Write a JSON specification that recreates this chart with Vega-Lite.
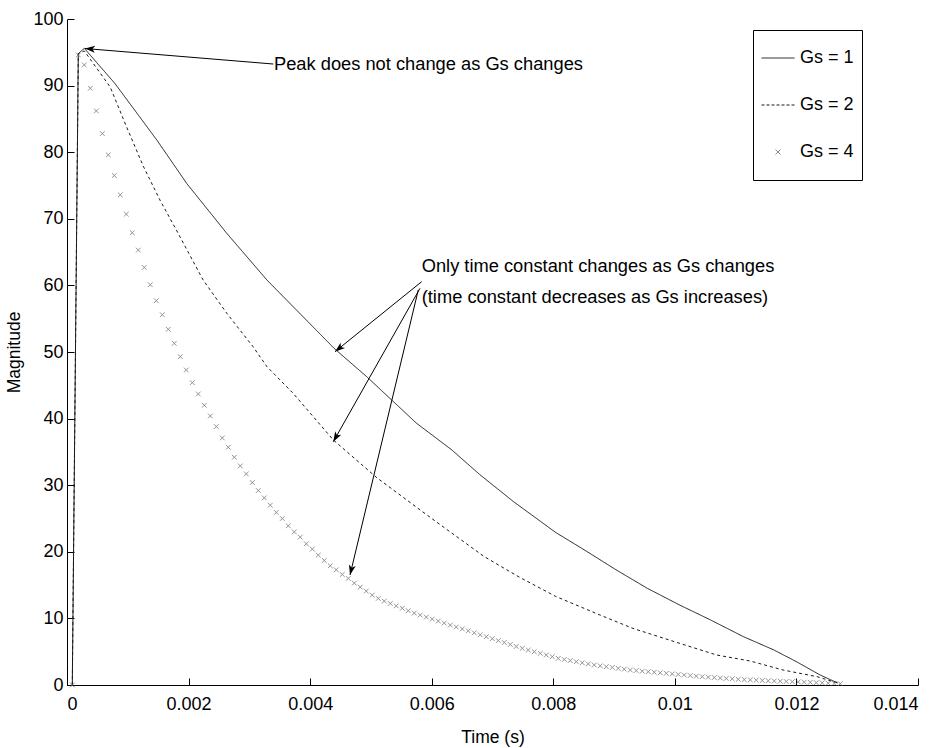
{
  "$schema": "https://vega.github.io/schema/vega-lite/v6.json",
  "width": 851,
  "height": 666,
  "autosize": {"type": "none"},
  "padding": {"left": 67, "top": 19, "right": 26, "bottom": 63},
  "background": "white",
  "config": {
    "view": {"stroke": null},
    "font": "Liberation Sans",
    "axis": {
      "grid": false,
      "domainColor": "#000",
      "domainWidth": 1,
      "tickColor": "#000",
      "tickWidth": 1,
      "tickSize": -7,
      "labelColor": "#000",
      "labelFont": "Liberation Sans",
      "labelFontSize": 18,
      "titleFont": "Liberation Sans",
      "titleFontSize": 17.5,
      "titleFontWeight": "normal",
      "titleColor": "#000"
    }
  },
  "datasets": {
    "lines": [
      {"s": "Gs = 1", "t": 0.0000872, "m": 0},
      {"s": "Gs = 1", "t": 0.0001859, "m": 94.8},
      {"s": "Gs = 1", "t": 0.0002846, "m": 95.6},
      {"s": "Gs = 1", "t": 0.00079, "m": 90.3},
      {"s": "Gs = 1", "t": 0.00148, "m": 81.8},
      {"s": "Gs = 1", "t": 0.00197, "m": 75.3},
      {"s": "Gs = 1", "t": 0.00263, "m": 67.8},
      {"s": "Gs = 1", "t": 0.00329, "m": 60.8},
      {"s": "Gs = 1", "t": 0.0044, "m": 50.5},
      {"s": "Gs = 1", "t": 0.00493, "m": 46.3},
      {"s": "Gs = 1", "t": 0.00575, "m": 39.3},
      {"s": "Gs = 1", "t": 0.00633, "m": 35.3},
      {"s": "Gs = 1", "t": 0.00679, "m": 31.6},
      {"s": "Gs = 1", "t": 0.00735, "m": 27.5},
      {"s": "Gs = 1", "t": 0.00804, "m": 22.9},
      {"s": "Gs = 1", "t": 0.00849, "m": 20.4},
      {"s": "Gs = 1", "t": 0.00905, "m": 17.2},
      {"s": "Gs = 1", "t": 0.00955, "m": 14.5},
      {"s": "Gs = 1", "t": 0.01008, "m": 12.0},
      {"s": "Gs = 1", "t": 0.01058, "m": 9.8},
      {"s": "Gs = 1", "t": 0.01113, "m": 7.25},
      {"s": "Gs = 1", "t": 0.01162, "m": 5.3},
      {"s": "Gs = 1", "t": 0.012, "m": 3.5},
      {"s": "Gs = 1", "t": 0.01239, "m": 1.5},
      {"s": "Gs = 1", "t": 0.01268, "m": 0.3},
      {"s": "Gs = 2", "t": 0.0000872, "m": 0},
      {"s": "Gs = 2", "t": 0.0001859, "m": 94.8},
      {"s": "Gs = 2", "t": 0.0002846, "m": 95.2},
      {"s": "Gs = 2", "t": 0.00071, "m": 89.8},
      {"s": "Gs = 2", "t": 0.00098, "m": 83.8},
      {"s": "Gs = 2", "t": 0.00126, "m": 77.8},
      {"s": "Gs = 2", "t": 0.00153, "m": 72.8},
      {"s": "Gs = 2", "t": 0.0018, "m": 68.3},
      {"s": "Gs = 2", "t": 0.00224, "m": 60.8},
      {"s": "Gs = 2", "t": 0.00263, "m": 55.8},
      {"s": "Gs = 2", "t": 0.00306, "m": 50.8},
      {"s": "Gs = 2", "t": 0.00329, "m": 47.8},
      {"s": "Gs = 2", "t": 0.00372, "m": 43.8},
      {"s": "Gs = 2", "t": 0.00438, "m": 36.8},
      {"s": "Gs = 2", "t": 0.0051, "m": 31.1},
      {"s": "Gs = 2", "t": 0.006, "m": 25.0},
      {"s": "Gs = 2", "t": 0.00686, "m": 19.3},
      {"s": "Gs = 2", "t": 0.00744, "m": 16.2},
      {"s": "Gs = 2", "t": 0.00804, "m": 13.3},
      {"s": "Gs = 2", "t": 0.00877, "m": 10.5},
      {"s": "Gs = 2", "t": 0.00931, "m": 8.5},
      {"s": "Gs = 2", "t": 0.01003, "m": 6.4},
      {"s": "Gs = 2", "t": 0.01069, "m": 4.5},
      {"s": "Gs = 2", "t": 0.01124, "m": 3.6},
      {"s": "Gs = 2", "t": 0.01178, "m": 2.25},
      {"s": "Gs = 2", "t": 0.01234, "m": 1.25},
      {"s": "Gs = 2", "t": 0.01268, "m": 0.3}
    ],
    "markers": [
      {"t": 0.0000872, "m": 0}, {"t": 0.0001859, "m": 94.6}, {"t": 0.0002846, "m": 93.1}, {"t": 0.0003833, "m": 89.6},
      {"t": 0.000482, "m": 86.2}, {"t": 0.0005807, "m": 82.8}, {"t": 0.0006794, "m": 79.6}, {"t": 0.0007781, "m": 76.5},
      {"t": 0.0008768, "m": 73.6}, {"t": 0.0009755, "m": 70.7}, {"t": 0.0010742, "m": 67.9}, {"t": 0.0011729, "m": 65.3},
      {"t": 0.0012716, "m": 62.7}, {"t": 0.0013703, "m": 60.1}, {"t": 0.001469, "m": 57.7}, {"t": 0.0015677, "m": 55.6},
      {"t": 0.0016664, "m": 53.4}, {"t": 0.0017651, "m": 51.3}, {"t": 0.0018638, "m": 49.3}, {"t": 0.0019625, "m": 47.3},
      {"t": 0.0020612, "m": 45.4}, {"t": 0.0021599, "m": 43.7}, {"t": 0.0022586, "m": 42.0}, {"t": 0.0023573, "m": 40.4},
      {"t": 0.002456, "m": 38.8}, {"t": 0.0025547, "m": 37.1}, {"t": 0.0026534, "m": 35.7}, {"t": 0.0027521, "m": 34.2},
      {"t": 0.0028508, "m": 32.9}, {"t": 0.0029495, "m": 31.7}, {"t": 0.0030482, "m": 30.4}, {"t": 0.0031469, "m": 29.2},
      {"t": 0.0032456, "m": 28.1}, {"t": 0.0033443, "m": 27.0}, {"t": 0.003443, "m": 25.9}, {"t": 0.0035417, "m": 25.0},
      {"t": 0.0036404, "m": 23.9}, {"t": 0.0037391, "m": 23.0}, {"t": 0.0038378, "m": 22.2}, {"t": 0.0039365, "m": 21.2},
      {"t": 0.0040352, "m": 20.4}, {"t": 0.0041339, "m": 19.5}, {"t": 0.0042326, "m": 18.7}, {"t": 0.0043313, "m": 17.9},
      {"t": 0.00443, "m": 17.3}, {"t": 0.0045287, "m": 16.6}, {"t": 0.0046274, "m": 16.0}, {"t": 0.0047261, "m": 15.3},
      {"t": 0.0048248, "m": 14.7}, {"t": 0.0049235, "m": 14.1}, {"t": 0.0050222, "m": 13.5}, {"t": 0.0051209, "m": 13.0},
      {"t": 0.0052196, "m": 12.6}, {"t": 0.0053183, "m": 12.24}, {"t": 0.005417, "m": 11.88}, {"t": 0.0055157, "m": 11.52},
      {"t": 0.0056144, "m": 11.16}, {"t": 0.0057131, "m": 10.8}, {"t": 0.0058118, "m": 10.5}, {"t": 0.0059105, "m": 10.2},
      {"t": 0.0060092, "m": 9.9}, {"t": 0.0061079, "m": 9.6}, {"t": 0.0062066, "m": 9.3}, {"t": 0.0063053, "m": 9.0},
      {"t": 0.006404, "m": 8.71}, {"t": 0.0065027, "m": 8.42}, {"t": 0.0066014, "m": 8.13}, {"t": 0.0067001, "m": 7.83},
      {"t": 0.0067988, "m": 7.54}, {"t": 0.0068975, "m": 7.25}, {"t": 0.0069962, "m": 6.96}, {"t": 0.0070949, "m": 6.67},
      {"t": 0.0071936, "m": 6.38}, {"t": 0.0072923, "m": 6.08}, {"t": 0.007391, "m": 5.79}, {"t": 0.0074897, "m": 5.5},
      {"t": 0.0075884, "m": 5.25}, {"t": 0.0076871, "m": 5.0}, {"t": 0.0077858, "m": 4.75}, {"t": 0.0078845, "m": 4.5},
      {"t": 0.0079832, "m": 4.25}, {"t": 0.0080819, "m": 4.0}, {"t": 0.0081806, "m": 3.83}, {"t": 0.0082793, "m": 3.67},
      {"t": 0.008378, "m": 3.5}, {"t": 0.0084767, "m": 3.33}, {"t": 0.0085754, "m": 3.17}, {"t": 0.0086741, "m": 3.0},
      {"t": 0.0087728, "m": 2.88}, {"t": 0.0088715, "m": 2.75}, {"t": 0.0089702, "m": 2.63}, {"t": 0.0090689, "m": 2.5},
      {"t": 0.0091676, "m": 2.38}, {"t": 0.0092663, "m": 2.25}, {"t": 0.009365, "m": 2.17}, {"t": 0.0094637, "m": 2.08},
      {"t": 0.0095624, "m": 2.0}, {"t": 0.0096611, "m": 1.92}, {"t": 0.0097598, "m": 1.83}, {"t": 0.0098585, "m": 1.75},
      {"t": 0.0099572, "m": 1.67}, {"t": 0.0100559, "m": 1.58}, {"t": 0.0101546, "m": 1.5}, {"t": 0.0102533, "m": 1.42},
      {"t": 0.010352, "m": 1.33}, {"t": 0.0104507, "m": 1.25}, {"t": 0.0105494, "m": 1.18}, {"t": 0.0106481, "m": 1.12},
      {"t": 0.0107468, "m": 1.05}, {"t": 0.0108455, "m": 0.98}, {"t": 0.0109442, "m": 0.92}, {"t": 0.0110429, "m": 0.85},
      {"t": 0.0111416, "m": 0.81}, {"t": 0.0112403, "m": 0.77}, {"t": 0.011339, "m": 0.73}, {"t": 0.0114377, "m": 0.68},
      {"t": 0.0115364, "m": 0.64}, {"t": 0.0116351, "m": 0.6}, {"t": 0.0117338, "m": 0.57}, {"t": 0.0118325, "m": 0.53},
      {"t": 0.0119312, "m": 0.5}, {"t": 0.0120299, "m": 0.47}, {"t": 0.0121286, "m": 0.43}, {"t": 0.0122273, "m": 0.4},
      {"t": 0.012326, "m": 0.36}, {"t": 0.0124247, "m": 0.32}, {"t": 0.0125234, "m": 0.28}, {"t": 0.0126221, "m": 0.24},
      {"t": 0.0127208, "m": 0.2}
    ],
    "arrows": [
      {"t": 0.003394, "m": 93.24, "t2": 0.000296, "m2": 95.57},
      {"t": 0.005835, "m": 60.56, "t2": 0.004409, "m2": 50.05},
      {"t": 0.005807, "m": 59.56, "t2": 0.004381, "m2": 36.53},
      {"t": 0.005779, "m": 59.31, "t2": 0.004656, "m2": 16.52}
    ],
    "labels": [
      {"t": 0.003405, "m": 93.1, "txt": "Peak does not change as Gs changes"},
      {"t": 0.005835, "m": 62.7, "txt": "Only time constant changes as Gs changes"},
      {"t": 0.005835, "m": 58.1, "txt": "(time constant decreases as Gs increases)"}
    ]
  },
  "layer": [
    {
      "data": {"name": "lines"},
      "mark": {"type": "line", "strokeWidth": 1},
      "encoding": {
        "x": {
          "field": "t", "type": "quantitative",
          "scale": {"domain": [0, 0.014], "nice": false, "zero": false},
          "axis": {"values": [0, 0.002, 0.004, 0.006, 0.008, 0.01, 0.012, 0.014], "format": "~g", "title": "Time (s)", "labelPadding": 17.5, "titlePadding": 15}
        },
        "y": {
          "field": "m", "type": "quantitative",
          "scale": {"domain": [0, 100], "nice": false},
          "axis": {"values": [0, 10, 20, 30, 40, 50, 60, 70, 80, 90, 100], "title": "Magnitude", "labelPadding": 11, "titlePadding": 9}
        },
        "color": {
          "field": "s", "type": "nominal",
          "scale": {"domain": ["Gs = 1", "Gs = 2", "Gs = 4"], "range": ["#1a1a1a", "#1a1a1a", "#666666"]},
          "legend": {
            "title": null,
            "orient": "none",
            "legendX": 686,
            "legendY": 11,
            "padding": 8,
            "strokeColor": "#000",
            "fillColor": "#fff",
            "symbolType": "stroke",
            "symbolSize": 1089,
            "symbolStrokeWidth": 1,
            "labelFontSize": 18,
            "labelFont": "Liberation Sans",
            "labelColor": "#000",
            "labelOffset": 5,
            "clipHeight": 40,
            "rowPadding": 7,
            "encode": {
              "symbols": {
                "update": {
                  "shape": {"signal": "datum.value == 'Gs = 4' ? 'M-1,-1L1,1M-1,1L1,-1' : 'stroke'"},
                  "size": {"signal": "datum.value == 'Gs = 4' ? 22 : 1089"},
                  "strokeDash": {"signal": "datum.value == 'Gs = 2' ? [3, 2] : [1, 0]"}
                }
              }
            }
          }
        },
        "strokeDash": {
          "field": "s", "type": "nominal",
          "scale": {"domain": ["Gs = 1", "Gs = 2"], "range": [[1, 0], [3, 3]]},
          "legend": null
        }
      }
    },
    {
      "data": {"name": "markers"},
      "mark": {"type": "point", "shape": "M-1,-1L1,1M-1,1L1,-1", "size": 22, "strokeWidth": 1, "filled": false},
      "encoding": {
        "x": {"field": "t", "type": "quantitative"},
        "y": {"field": "m", "type": "quantitative"},
        "color": {"datum": "Gs = 4", "type": "nominal"}
      }
    },
    {
      "data": {"name": "arrows"},
      "mark": {"type": "rule", "color": "#000", "strokeWidth": 1},
      "encoding": {
        "x": {"field": "t", "type": "quantitative"},
        "y": {"field": "m", "type": "quantitative"},
        "x2": {"field": "t2"},
        "y2": {"field": "m2"}
      }
    },
    {
      "data": {"name": "labels"},
      "mark": {"type": "text", "align": "left", "baseline": "middle", "fontSize": 18.3, "font": "Liberation Sans", "color": "#000"},
      "encoding": {
        "x": {"field": "t", "type": "quantitative"},
        "y": {"field": "m", "type": "quantitative"},
        "text": {"field": "txt"}
      }
    },
    {
      "data": {"values": [{"t": 0.000296, "m": 95.57}]},
      "mark": {"type": "point", "shape": "M0,0L-1,-0.35L-0.75,0L-1,0.35Z", "size": 400, "filled": true, "color": "#000", "strokeWidth": 0, "opacity": 1, "angle": 184.7},
      "encoding": {"x": {"field": "t", "type": "quantitative"}, "y": {"field": "m", "type": "quantitative"}}
    },
    {
      "data": {"values": [{"t": 0.004409, "m": 50.05}]},
      "mark": {"type": "point", "shape": "M0,0L-1,-0.35L-0.75,0L-1,0.35Z", "size": 400, "filled": true, "color": "#000", "strokeWidth": 0, "opacity": 1, "angle": 141.1},
      "encoding": {"x": {"field": "t", "type": "quantitative"}, "y": {"field": "m", "type": "quantitative"}}
    },
    {
      "data": {"values": [{"t": 0.004381, "m": 36.53}]},
      "mark": {"type": "point", "shape": "M0,0L-1,-0.35L-0.75,0L-1,0.35Z", "size": 400, "filled": true, "color": "#000", "strokeWidth": 0, "opacity": 1, "angle": 119.5},
      "encoding": {"x": {"field": "t", "type": "quantitative"}, "y": {"field": "m", "type": "quantitative"}}
    },
    {
      "data": {"values": [{"t": 0.004656, "m": 16.52}]},
      "mark": {"type": "point", "shape": "M0,0L-1,-0.35L-0.75,0L-1,0.35Z", "size": 400, "filled": true, "color": "#000", "strokeWidth": 0, "opacity": 1, "angle": 103.5},
      "encoding": {"x": {"field": "t", "type": "quantitative"}, "y": {"field": "m", "type": "quantitative"}}
    }
  ]
}
